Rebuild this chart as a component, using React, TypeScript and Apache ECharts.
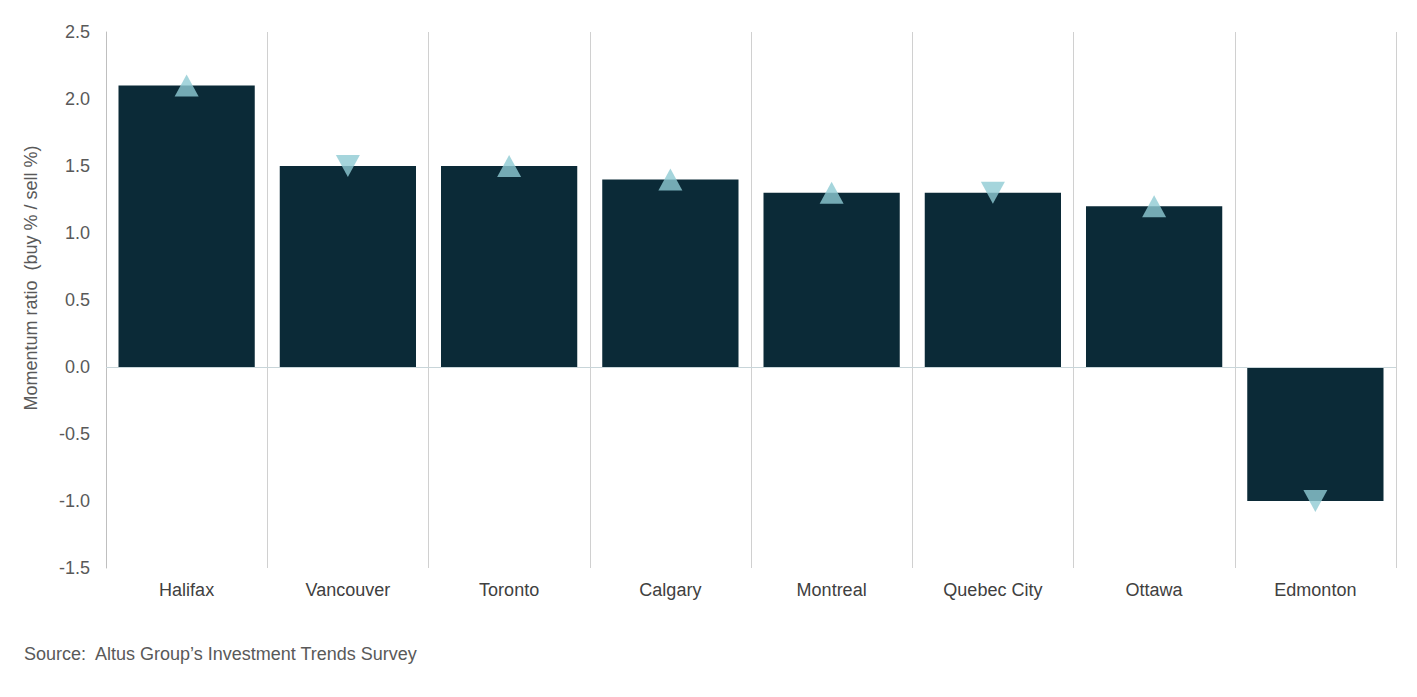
import React, { useEffect, useRef } from "react";
import * as echarts from "echarts";

const categories = ["Halifax", "Vancouver", "Toronto", "Calgary", "Montreal", "Quebec City", "Ottawa", "Edmonton"];
const momentumValues = [2.1, 1.5, 1.5, 1.4, 1.3, 1.3, 1.2, -1.0];
const trendDirections = ["up", "down", "up", "up", "up", "down", "up", "down"];
const yTicks = { min: -1.5, max: 2.5, interval: 0.5 };
const yAxisTitle = "Momentum ratio  (buy % / sell %)";
const sourceNote = "Source:  Altus Group\u2019s Investment Trends Survey";

export default function App() {
  const ref = useRef<HTMLDivElement>(null);
  useEffect(() => {
    if (!ref.current) return;
    const chart = echarts.init(ref.current, null, { renderer: "svg" });
    const font = "'Liberation Sans', Arial, sans-serif";
    chart.setOption({
      animation: false,
      backgroundColor: "#ffffff",
      textStyle: { fontFamily: font },
      grid: { left: 106, right: 21, top: 32, bottom: 129, containLabel: false },
      xAxis: {
        type: "category",
        data: categories,
        boundaryGap: true,
        axisLine: { show: false, onZero: false },
        axisTick: { show: false },
        axisLabel: { color: "#404040", fontSize: 18, margin: 13, fontFamily: font, interval: 0 },
        splitLine: { show: true, interval: 0, lineStyle: { color: "#d0d0d0", width: 1 } },
      },
      yAxis: {
        type: "value",
        min: yTicks.min,
        max: yTicks.max,
        interval: yTicks.interval,
        axisLine: { show: true, lineStyle: { color: "#bfbfbf", width: 1 } },
        axisTick: { show: false },
        splitLine: { show: false },
        axisLabel: {
          color: "#595959",
          fontSize: 18,
          margin: 16,
          fontFamily: font,
          formatter: (v: number) => v.toFixed(1),
        },
      },
      series: [
        {
          type: "bar",
          data: momentumValues,
          barCategoryGap: "15.5%",
          itemStyle: { color: "#0b2a37" },
          markLine: {
            silent: true,
            symbol: "none",
            label: { show: false },
            lineStyle: { color: "#c8d5d9", width: 1, type: "solid" },
            data: [{ yAxis: 0 }],
          },
          z: 2,
        },
        {
          type: "scatter",
          data: momentumValues.map((v, i) => ({
            value: v,
            symbol: "triangle",
            symbolRotate: trendDirections[i] === "down" ? 180 : 0,
          })),
          symbolSize: [24, 22],
          itemStyle: { color: "#8fcad3" },
          z: 3,
        },
      ],
      graphic: [
        {
          type: "text",
          x: 31,
          y: 278,
          rotation: Math.PI / 2,
          style: {
            text: yAxisTitle,
            fill: "#595959",
            fontSize: 18,
            fontFamily: font,
            textAlign: "center",
            textVerticalAlign: "middle",
          },
        },
        {
          type: "text",
          left: 24,
          top: 645,
          style: {
            text: sourceNote,
            fill: "#595959",
            fontSize: 18,
            fontFamily: font,
          },
        },
      ],
    });
    return () => chart.dispose();
  }, []);
  return <div ref={ref} style={{ position: "fixed", left: 0, top: 0, width: 1417, height: 697 }} />;
}
